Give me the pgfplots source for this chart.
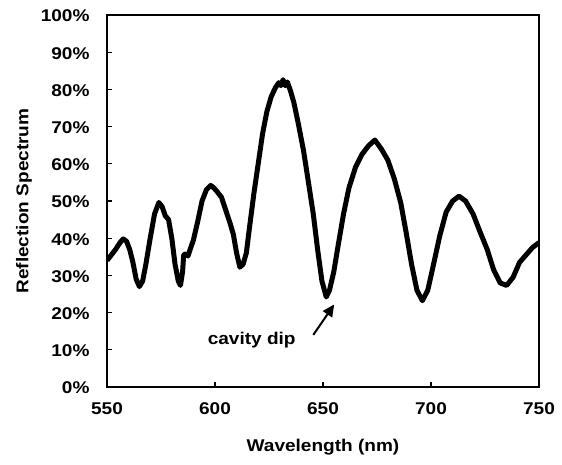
\documentclass[border=0pt]{standalone}
\usepackage{fontspec}
\setmainfont{Liberation Sans}[FakeStretch=1.12]
\usepackage{pgfplots}
\pgfplotsset{compat=1.18}
\usetikzlibrary{arrows.meta}
\begin{document}
\begin{tikzpicture}[x=1pt,y=1pt]
\begin{axis}[
  at={(107pt,77pt)}, anchor=south west,
  scale only axis, width=432pt, height=372pt,
  xmin=550, xmax=750, ymin=0, ymax=100,
  xtick={550,600,650,700,750}, ytick={0,10,...,100},
  tick align=inside, major tick length=5pt,
  xtick pos=bottom, ytick pos=left,
  axis line style={line width=1.4pt},
  tick style={line width=1.2pt, black},
  font=\fontsize{17}{19}\selectfont\bfseries,
  /pgf/number format/assume math mode=true,
  yticklabel={\pgfmathprintnumber{\tick}\%},
  xticklabel style={yshift=-12pt},
  yticklabel style={xshift=-14pt, yshift=-1pt},
  xlabel={Wavelength (nm)}, ylabel={Reflection Spectrum},
  xlabel style={yshift=-18pt},
  ylabel style={yshift=2pt},
  clip=true,
]
\addplot[black, line width=5pt, line join=round] coordinates {
(550,34.0) (552,35.5) (554,37.0) (556,38.8) (557.5,39.8) (559,39.2) (560.5,37.0) (562,33.5) (563.5,29.0) (565,27.0) (566.5,28.5) (568,33.0) (570,40.0) (572,46.5) (574,49.6) (575.5,48.5) (577,46.0) (578.5,45.0) (580,40.0) (581.5,33.0) (583,28.5) (584,27.3) (585,31.0) (585.5,35.5) (586.5,35.8) (587.5,35.2) (588.5,37.0) (590,39.5) (592,44.5) (594,50.0) (596,53.0) (598,54.2) (599.5,53.5) (601,52.5) (603,51.0) (605,47.5) (607,44.0) (608.5,41.0) (610,36.0) (611.5,32.2) (613,33.0) (614.5,36.0) (616,43.0) (618,52.0) (620,60.0) (622,68.0) (624,74.0) (626,78.0) (628,80.5) (629.5,81.8) (630.5,81.0) (631.5,82.6) (632.5,81.0) (633.5,82.0) (635,79.5) (636.5,76.5) (638.5,71.0) (641,63.5) (643,56.0) (645.5,46.5) (647.5,37.0) (649.5,28.5) (651.5,24.2) (653,26.0) (655,31.0) (657,38.0) (659.5,46.5) (662,53.5) (665,59.0) (668,62.5) (671,64.8) (674,66.4) (677,64.0) (680,61.0) (683,56.0) (686,49.5) (688.5,41.5) (691,33.0) (693.5,26.0) (696,23.2) (698.5,26.0) (701,32.5) (704,40.5) (707,47.0) (710,50.0) (713,51.3) (716,50.0) (719.5,46.5) (722.5,42.0) (726,37.0) (729,31.5) (732,28.0) (735,27.3) (738,29.5) (741,33.5) (744,35.5) (747,37.5) (750,38.8)
};
\draw[-{Triangle[length=12pt,width=11pt]}, line width=2pt] (axis cs:645.5,14) -- (axis cs:655.2,22.2);
\node[font=\fontsize{17}{19}\selectfont\bfseries] at (axis cs:617,12.6) {cavity dip};
\end{axis}
\pgfresetboundingbox
\path[use as bounding box] (0,0) rectangle (562,464);
\end{tikzpicture}
\end{document}
